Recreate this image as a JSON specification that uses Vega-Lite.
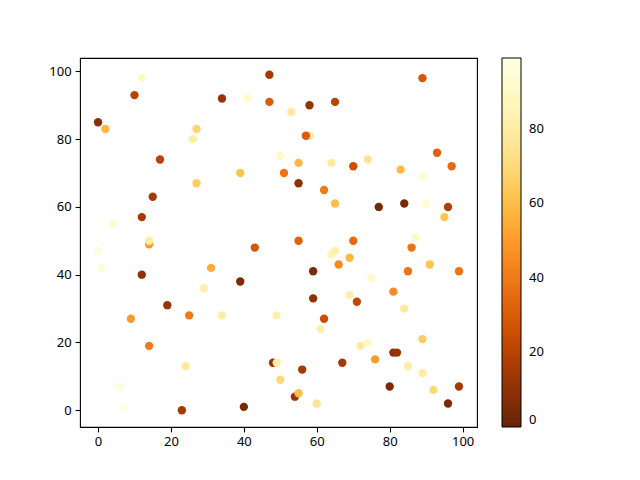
{
  "$schema": "https://vega.github.io/schema/vega-lite/v6.json",
  "width": 397,
  "height": 369,
  "autosize": {"type": "none"},
  "padding": {"left": 80, "top": 58, "right": 163, "bottom": 53},
  "background": "white",
  "config": {
    "view": {"stroke": "black", "strokeWidth": 1.1},
    "axis": {"grid": false, "domain": false, "tickColor": "black", "tickSize": 4.9, "tickWidth": 1.1, "labelColor": "black", "labelFont": "Noto Sans", "labelFontSize": 13, "labelPadding": 4, "titleFont": "Noto Sans"},
    "legend": {"labelFont": "Noto Sans", "labelFontSize": 13, "labelColor": "black", "labelBaseline": "middle"}
  },
  "data": {"values": [
    {"x":12,"y":98,"c":90},{"x":10,"y":93,"c":20},{"x":47,"y":99,"c":15},{"x":34,"y":92,"c":12},
    {"x":41,"y":92,"c":92},{"x":47,"y":91,"c":30},{"x":0,"y":85,"c":8},{"x":2,"y":83,"c":58},
    {"x":27,"y":83,"c":68},{"x":26,"y":80,"c":80},{"x":17,"y":74,"c":20},{"x":39,"y":70,"c":62},
    {"x":27,"y":67,"c":65},{"x":15,"y":63,"c":15},{"x":12,"y":57,"c":15},{"x":4,"y":55,"c":92},
    {"x":14,"y":49,"c":50},{"x":14,"y":50,"c":80},{"x":89,"y":98,"c":28},{"x":58,"y":90,"c":12},
    {"x":65,"y":91,"c":20},{"x":53,"y":88,"c":78},{"x":58,"y":81,"c":75},{"x":57,"y":81,"c":30},
    {"x":50,"y":75,"c":90},{"x":55,"y":73,"c":58},{"x":64,"y":73,"c":78},{"x":74,"y":74,"c":75},
    {"x":70,"y":72,"c":25},{"x":93,"y":76,"c":32},{"x":97,"y":72,"c":35},{"x":83,"y":71,"c":58},
    {"x":89,"y":69,"c":92},{"x":51,"y":70,"c":38},{"x":55,"y":67,"c":10},{"x":62,"y":65,"c":40},
    {"x":65,"y":61,"c":60},{"x":77,"y":60,"c":3},{"x":84,"y":61,"c":5},{"x":90,"y":61,"c":92},
    {"x":96,"y":60,"c":18},{"x":95,"y":57,"c":62},{"x":55,"y":50,"c":32},{"x":70,"y":50,"c":35},
    {"x":87,"y":51,"c":88},{"x":86,"y":48,"c":38},{"x":0,"y":47,"c":95},{"x":43,"y":48,"c":28},
    {"x":1,"y":42,"c":95},{"x":12,"y":40,"c":10},{"x":31,"y":42,"c":55},{"x":39,"y":38,"c":5},
    {"x":29,"y":36,"c":82},{"x":19,"y":31,"c":12},{"x":25,"y":28,"c":40},{"x":34,"y":28,"c":80},
    {"x":49,"y":28,"c":82},{"x":9,"y":27,"c":50},{"x":14,"y":19,"c":40},{"x":24,"y":13,"c":78},
    {"x":48,"y":14,"c":10},{"x":49,"y":14,"c":80},{"x":50,"y":9,"c":70},{"x":6,"y":7,"c":95},
    {"x":7,"y":1,"c":97},{"x":23,"y":0,"c":15},{"x":40,"y":1,"c":5},{"x":64,"y":46,"c":85},
    {"x":65,"y":47,"c":82},{"x":69,"y":45,"c":58},{"x":66,"y":43,"c":45},{"x":59,"y":41,"c":5},
    {"x":75,"y":39,"c":90},{"x":85,"y":41,"c":38},{"x":91,"y":43,"c":62},{"x":99,"y":41,"c":38},
    {"x":59,"y":33,"c":10},{"x":69,"y":34,"c":82},{"x":71,"y":32,"c":22},{"x":81,"y":35,"c":45},
    {"x":84,"y":30,"c":78},{"x":62,"y":27,"c":25},{"x":61,"y":24,"c":82},{"x":72,"y":19,"c":78},
    {"x":74,"y":20,"c":88},{"x":89,"y":21,"c":65},{"x":81,"y":17,"c":10},{"x":82,"y":17,"c":12},
    {"x":67,"y":14,"c":15},{"x":76,"y":15,"c":50},{"x":56,"y":12,"c":15},{"x":85,"y":13,"c":80},
    {"x":89,"y":11,"c":80},{"x":54,"y":4,"c":12},{"x":55,"y":5,"c":60},{"x":60,"y":2,"c":75},
    {"x":80,"y":7,"c":5},{"x":92,"y":6,"c":70},{"x":99,"y":7,"c":15},{"x":96,"y":2,"c":5}
  ]},
  "mark": {"type": "circle", "size": 70, "opacity": 1},
  "encoding": {
    "x": {"field": "x", "type": "quantitative", "scale": {"domain": [-4.95, 103.95], "nice": false, "zero": false}, "axis": {"title": null, "values": [0, 20, 40, 60, 80, 100]}},
    "y": {"field": "y", "type": "quantitative", "scale": {"domain": [-4.95, 103.95], "nice": false, "zero": false}, "axis": {"title": null, "values": [0, 20, 40, 60, 80, 100]}},
    "color": {"field": "c", "type": "quantitative",
      "scale": {"domain": [0, 12.375, 24.75, 37.125, 49.5, 61.875, 74.25, 86.625, 99],
                "range": ["#662506", "#993404", "#cc4c02", "#ec7014", "#fe9929", "#fec44f", "#fee391", "#fff7bc", "#ffffe5"]},
      "legend": {"title": null, "orient": "none", "legendX": 422, "legendY": 0, "direction": "vertical", "gradientLength": 369, "gradientThickness": 19, "gradientStrokeColor": "black", "gradientStrokeWidth": 1, "values": [0, 20, 40, 60, 80], "labelOffset": 8, "labelOverlap": false,
        "encode": {"labels": {"update": {"baseline": {"value": "middle"}, "y": {"signal": "(1 - datum.perc) * 369"}}}}}}
  }
}
